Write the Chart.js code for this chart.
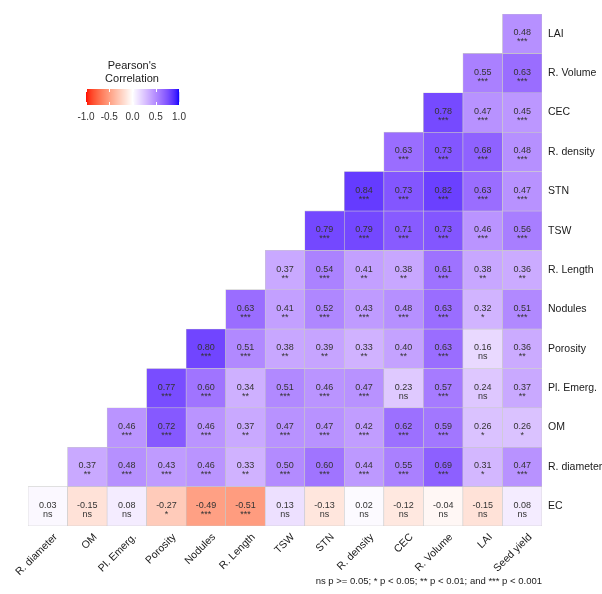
<!DOCTYPE html>
<html>
<head>
<meta charset="utf-8">
<script src="https://cdn.jsdelivr.net/npm/chart.js@4/dist/chart.umd.min.js"></script>
<style>
  html, body { margin: 0; padding: 0; background: #fff; }
  #wrap { width: 602px; height: 594px; position: relative; }
</style>
</head>
<body>
<div id="wrap"><canvas id="corrChart"></canvas></div>
<script>
// column labels (x axis, left to right)
const colNames = ['R. diameter', 'OM', 'Pl. Emerg.', 'Porosity', 'Nodules', 'R. Length', 'TSW',
  'STN', 'R. density', 'CEC', 'R. Volume', 'LAI', 'Seed yield'];
// row labels (right axis, top to bottom)
const rowNames = ['LAI', 'R. Volume', 'CEC', 'R. density', 'STN', 'TSW', 'R. Length',
  'Nodules', 'Porosity', 'Pl. Emerg.', 'OM', 'R. diameter', 'EC'];

// correlation per row, one entry per column (null = empty cell)
const _ = null;
const corrValues = [
  [_, _, _, _, _, _, _, _, _, _, _, _, 0.48],
  [_, _, _, _, _, _, _, _, _, _, _, 0.55, 0.63],
  [_, _, _, _, _, _, _, _, _, _, 0.78, 0.47, 0.45],
  [_, _, _, _, _, _, _, _, _, 0.63, 0.73, 0.68, 0.48],
  [_, _, _, _, _, _, _, _, 0.84, 0.73, 0.82, 0.63, 0.47],
  [_, _, _, _, _, _, _, 0.79, 0.79, 0.71, 0.73, 0.46, 0.56],
  [_, _, _, _, _, _, 0.37, 0.54, 0.41, 0.38, 0.61, 0.38, 0.36],
  [_, _, _, _, _, 0.63, 0.41, 0.52, 0.43, 0.48, 0.63, 0.32, 0.51],
  [_, _, _, _, 0.80, 0.51, 0.38, 0.39, 0.33, 0.40, 0.63, 0.16, 0.36],
  [_, _, _, 0.77, 0.60, 0.34, 0.51, 0.46, 0.47, 0.23, 0.57, 0.24, 0.37],
  [_, _, 0.46, 0.72, 0.46, 0.37, 0.47, 0.47, 0.42, 0.62, 0.59, 0.26, 0.26],
  [_, 0.37, 0.48, 0.43, 0.46, 0.33, 0.50, 0.60, 0.44, 0.55, 0.69, 0.31, 0.47],
  [0.03, -0.15, 0.08, -0.27, -0.49, -0.51, 0.13, -0.13, 0.02, -0.12, -0.04, -0.15, 0.08]
];

// significance labels, same layout
const corrSig = [
  [_, _, _, _, _, _, _, _, _, _, _, _, '***'],
  [_, _, _, _, _, _, _, _, _, _, _, '***', '***'],
  [_, _, _, _, _, _, _, _, _, _, '***', '***', '***'],
  [_, _, _, _, _, _, _, _, _, '***', '***', '***', '***'],
  [_, _, _, _, _, _, _, _, '***', '***', '***', '***', '***'],
  [_, _, _, _, _, _, _, '***', '***', '***', '***', '***', '***'],
  [_, _, _, _, _, _, '**', '***', '**', '**', '***', '**', '**'],
  [_, _, _, _, _, '***', '**', '***', '***', '***', '***', '*', '***'],
  [_, _, _, _, '***', '***', '**', '**', '**', '**', '***', 'ns', '**'],
  [_, _, _, '***', '***', '**', '***', '***', '***', 'ns', '***', 'ns', '**'],
  [_, _, '***', '***', '***', '**', '***', '***', '***', '***', '***', '*', '*'],
  [_, '**', '***', '***', '***', '**', '***', '***', '***', '***', '***', '*', '***'],
  ['ns', 'ns', 'ns', '*', '***', '***', 'ns', 'ns', 'ns', 'ns', 'ns', 'ns', 'ns']
];

const legendTicks = [-1.0, -0.5, 0.0, 0.5, 1.0];
const footNote = 'ns p >= 0.05; * p < 0.05; ** p < 0.01; and *** p < 0.001';

// --- red / white / blue gradient, interpolated in Lab like ggplot ---
function srgbToLin(c) { c /= 255; return c <= 0.04045 ? c / 12.92 : Math.pow((c + 0.055) / 1.055, 2.4); }
function linToSrgb(c) {
  c = c <= 0.0031308 ? 12.92 * c : 1.055 * Math.pow(c, 1 / 2.4) - 0.055;
  return Math.max(0, Math.min(255, Math.round(c * 255)));
}
const WX = 0.95047, WY = 1.0, WZ = 1.08883;
function rgbToLab(rgb) {
  const r = srgbToLin(rgb[0]), g = srgbToLin(rgb[1]), b = srgbToLin(rgb[2]);
  let x = (0.4124 * r + 0.3576 * g + 0.1805 * b) / WX;
  let y = (0.2126 * r + 0.7152 * g + 0.0722 * b) / WY;
  let z = (0.0193 * r + 0.1192 * g + 0.9505 * b) / WZ;
  const f = t => t > 0.008856 ? Math.cbrt(t) : 7.787 * t + 16 / 116;
  x = f(x); y = f(y); z = f(z);
  return [116 * y - 16, 500 * (x - y), 200 * (y - z)];
}
function labToRgb(lab) {
  const fy = (lab[0] + 16) / 116, fx = fy + lab[1] / 500, fz = fy - lab[2] / 200;
  const inv = t => t * t * t > 0.008856 ? t * t * t : (t - 16 / 116) / 7.787;
  const x = inv(fx) * WX, y = inv(fy) * WY, z = inv(fz) * WZ;
  const r = 3.2406 * x - 1.5372 * y - 0.4986 * z;
  const g = -0.9689 * x + 1.8758 * y + 0.0415 * z;
  const b = 0.0557 * x - 0.2040 * y + 1.0570 * z;
  return [linToSrgb(r), linToSrgb(g), linToSrgb(b)];
}
const labRed = rgbToLab([255, 0, 0]), labWhite = rgbToLab([255, 255, 255]), labBlue = rgbToLab([0, 0, 255]);
function corrColor(v) {
  const end = v < 0 ? labRed : labBlue;
  const t = Math.min(1, Math.abs(v));
  const lab = [0, 1, 2].map(k => labWhite[k] + (end[k] - labWhite[k]) * t);
  const c = labToRgb(lab);
  return `rgb(${c[0]},${c[1]},${c[2]})`;
}

// one floating-bar dataset per row, each bar spans one cell
const datasets = rowNames.map((name, i) => ({
  label: name,
  data: colNames.map((c, j) => corrValues[i][j] === null ? null : [i - 0.5, i + 0.5]),
  backgroundColor: colNames.map((c, j) => corrValues[i][j] === null ? 'rgba(0,0,0,0)' : corrColor(corrValues[i][j])),
  borderColor: '#c8c8c8',
  borderWidth: 0.6,
  borderSkipped: false,
  grouped: false,
  barPercentage: 1,
  categoryPercentage: 1
}));

// cell labels, legend bar and footnote
const overlayPlugin = {
  id: 'overlay',
  afterDatasetsDraw(chart) {
    const ctx = chart.ctx;
    const xs = chart.scales.x, ys = chart.scales.y;
    ctx.save();
    ctx.textAlign = 'center';
    ctx.fillStyle = '#333';
    for (let i = 0; i < rowNames.length; i++) {
      for (let j = 0; j < colNames.length; j++) {
        const v = corrValues[i][j];
        if (v === null) continue;
        const cx = xs.getPixelForValue(j), cy = ys.getPixelForValue(i);
        ctx.font = '9px "Liberation Sans", Arial, sans-serif';
        ctx.textBaseline = 'alphabetic';
        ctx.fillText(v.toFixed(2), cx, cy + 1.5);
        ctx.fillText(corrSig[i][j], cx, cy + 10.5);
      }
    }

    // colour bar legend
    const barL = 86, barR = 179, barT = 89, barB = 105;
    const toX = v => barL + (v + 1) / 2 * (barR - barL);
    for (let x = barL; x < barR; x++) {
      const v = ((x + 0.5 - barL) / (barR - barL)) * 2 - 1;
      ctx.fillStyle = corrColor(v);
      ctx.fillRect(x, barT, 1.2, barB - barT);
    }
    ctx.strokeStyle = '#fff';
    ctx.lineWidth = 1;
    legendTicks.forEach(t => {
      const x = Math.round(toX(t)) + 0.5;
      ctx.beginPath();
      ctx.moveTo(x, barT); ctx.lineTo(x, barT + 3);
      ctx.moveTo(x, barB - 3); ctx.lineTo(x, barB);
      ctx.stroke();
    });
    ctx.fillStyle = '#1a1a1a';
    ctx.font = '11px "Liberation Sans", Arial, sans-serif';
    ctx.textBaseline = 'middle';
    ctx.fillText("Pearson's", 132, 66);
    ctx.fillText('Correlation', 132, 79);
    ctx.fillStyle = '#333';
    ctx.font = '10px "Liberation Sans", Arial, sans-serif';
    legendTicks.forEach(t => ctx.fillText(t.toFixed(1), toX(t), 117));

    // footnote
    ctx.fillStyle = '#1a1a1a';
    ctx.font = '9.5px "Liberation Sans", Arial, sans-serif';
    ctx.textAlign = 'right';
    ctx.fillText(footNote, 542, 581);
    ctx.restore();
  }
};

new Chart(document.getElementById('corrChart'), {
  type: 'bar',
  data: { labels: colNames, datasets: datasets },
  options: {
    responsive: true,
    maintainAspectRatio: false,
    animation: false,
    layout: { padding: { left: 28, top: 14, right: 0, bottom: 0 } },
    plugins: { legend: { display: false }, tooltip: { enabled: false } },
    scales: {
      x: {
        type: 'category',
        grid: { display: false, drawTicks: false },
        border: { display: false },
        ticks: {
          autoSkip: false, minRotation: 45, maxRotation: 45, padding: 5, labelOffset: 8,
          color: '#1a1a1a',
          font: { family: '"Liberation Sans", Arial, sans-serif', size: 10.5 }
        },
        afterFit(scale) { scale.height = 68; scale.paddingLeft = 0; scale.paddingRight = 0; }
      },
      y: {
        type: 'linear',
        position: 'right',
        reverse: true,
        min: -0.5,
        max: 12.5,
        grid: { display: false, drawTicks: false },
        border: { display: false },
        afterBuildTicks(scale) { scale.ticks = rowNames.map((n, i) => ({ value: i })); },
        ticks: {
          padding: 6,
          color: '#1a1a1a',
          font: { family: '"Liberation Sans", Arial, sans-serif', size: 10.5 },
          callback: v => rowNames[v]
        },
        afterFit(scale) { scale.width = 60; scale.paddingTop = 0; scale.paddingBottom = 0; }
      }
    }
  },
  plugins: [overlayPlugin]
});
</script>
</body>
</html>
